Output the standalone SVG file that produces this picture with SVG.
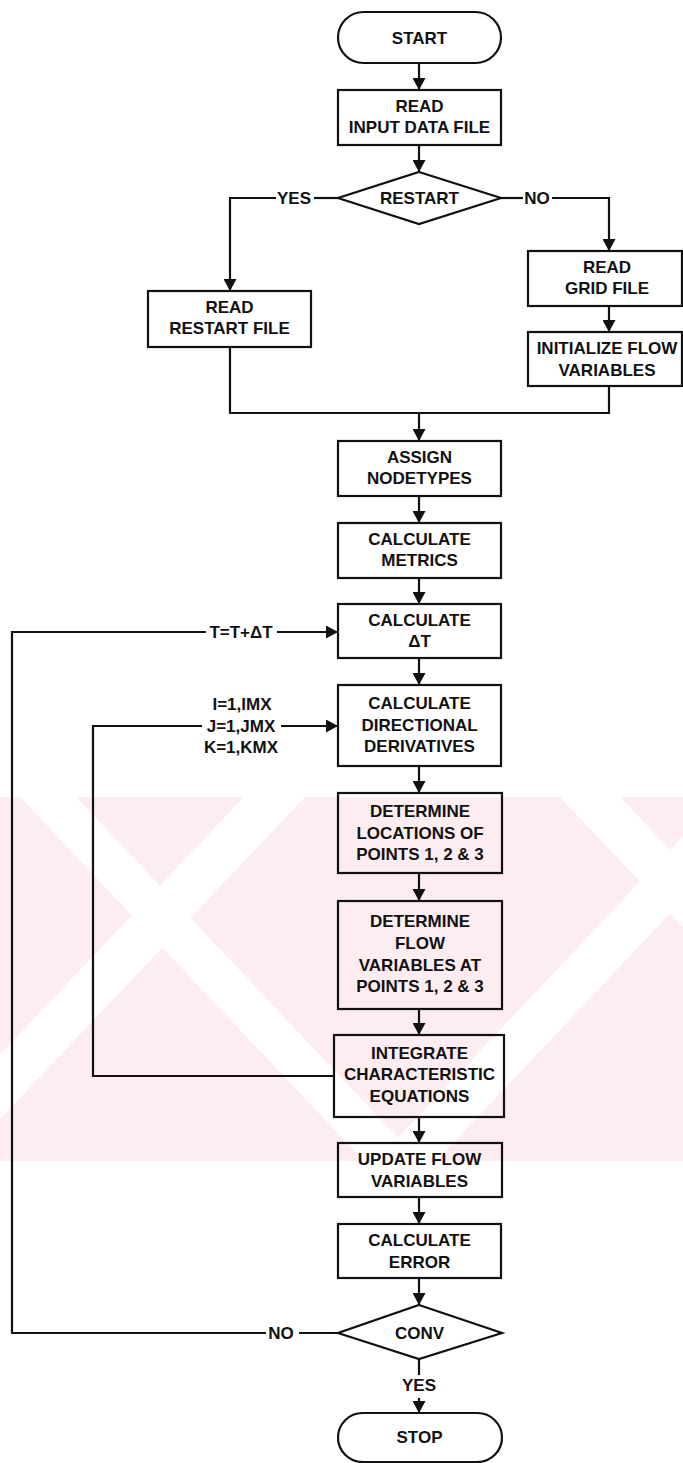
<svg xmlns="http://www.w3.org/2000/svg" width="683" height="1463" viewBox="0 0 683 1463">
<style>
.box{fill:none;stroke:#111;stroke-width:2.2}
.ln{fill:none;stroke:#111;stroke-width:2.2}
.t{font-family:"Liberation Sans",Arial,sans-serif;font-weight:bold;font-size:17px;fill:#111;text-anchor:middle}
</style>
<defs>
<marker id="ah" viewBox="0 0 12 13" refX="12" refY="6.5" markerWidth="12" markerHeight="13" markerUnits="userSpaceOnUse" orient="auto">
<path d="M0,0 L12,6.5 L0,13 z" fill="#111"/>
</marker>
<clipPath id="wm"><rect x="0" y="797" width="683" height="364"/></clipPath>
</defs>
<rect width="683" height="1463" fill="#fff"/>
<g id="watermark" clip-path="url(#wm)">
<rect x="0" y="797" width="683" height="364" fill="#fdedf0"/>
<g fill="#fff">
<polygon points="20,797 76,797 420,1161 364,1161"/>
<polygon points="244,797 305,797 -40,1161 -101,1161"/>
<polygon points="560,797 620,797 964,1161 904,1161"/>
<polygon points="720,797 780,797 436,1161 376,1161"/>
</g>
</g>
<g id="connectors">
<line class="ln" x1="419" y1="63" x2="419" y2="90" marker-end="url(#ah)"/>
<line class="ln" x1="419" y1="145" x2="419" y2="172" marker-end="url(#ah)"/>
<polyline class="ln" points="338,198 314,198"/>
<polyline class="ln" points="276,198 230,198 230,291" marker-end="url(#ah)"/>
<polyline class="ln" points="501,198 523,198"/>
<polyline class="ln" points="552,198 609,198 609,251" marker-end="url(#ah)"/>
<line class="ln" x1="609" y1="306" x2="609" y2="332" marker-end="url(#ah)"/>
<polyline class="ln" points="230,347 230,413 609,413 609,386"/>
<line class="ln" x1="419" y1="413" x2="419" y2="441" marker-end="url(#ah)"/>
<line class="ln" x1="419" y1="496" x2="419" y2="523" marker-end="url(#ah)"/>
<line class="ln" x1="419" y1="578" x2="419" y2="604" marker-end="url(#ah)"/>
<line class="ln" x1="419" y1="658" x2="419" y2="685" marker-end="url(#ah)"/>
<line class="ln" x1="419" y1="766" x2="419" y2="793" marker-end="url(#ah)"/>
<line class="ln" x1="419" y1="873" x2="419" y2="901" marker-end="url(#ah)"/>
<line class="ln" x1="419" y1="1009" x2="419" y2="1035" marker-end="url(#ah)"/>
<line class="ln" x1="419" y1="1117" x2="419" y2="1143" marker-end="url(#ah)"/>
<line class="ln" x1="419" y1="1197" x2="419" y2="1224" marker-end="url(#ah)"/>
<line class="ln" x1="419" y1="1278" x2="419" y2="1305" marker-end="url(#ah)"/>
<line class="ln" x1="419" y1="1359" x2="419" y2="1375"/>
<line class="ln" x1="419" y1="1398" x2="419" y2="1413" marker-end="url(#ah)"/>
<polyline class="ln" points="338,1333 299,1333"/>
<polyline class="ln" points="266,1333 12,1333 12,632 206,632"/>
<line class="ln" x1="277" y1="632" x2="338" y2="632" marker-end="url(#ah)"/>
<polyline class="ln" points="334,1076 93,1076 93,726 202,726"/>
<line class="ln" x1="281" y1="726" x2="338" y2="726" marker-end="url(#ah)"/>
<text class="t" x="294" y="204">YES</text>
<text class="t" x="537" y="204">NO</text>
<text class="t" x="241" y="638">T=T+ΔT</text>
<text class="t" x="242" y="710">I=1,IMX</text>
<text class="t" x="241" y="732">J=1,JMX</text>
<text class="t" x="241" y="753">K=1,KMX</text>
<text class="t" x="281" y="1339">NO</text>
<text class="t" x="419" y="1391">YES</text>
</g>
<g id="start"><rect class="box" x="338" y="12" width="163" height="51" rx="25.5"/><text class="t" x="419.5" y="43.5">START</text></g>
<g id="read-input"><rect class="box" x="338" y="90" width="163" height="55"/><text class="t" x="419.5" y="112">READ</text><text class="t" x="419.5" y="133">INPUT DATA FILE</text></g>
<g id="restart"><polygon class="box" points="419,172 501,198 419,224 338,198"/><text class="t" x="419.5" y="204">RESTART</text></g>
<g id="read-restart"><rect class="box" x="148" y="291" width="163" height="56"/><text class="t" x="229.5" y="313">READ</text><text class="t" x="229.5" y="334">RESTART FILE</text></g>
<g id="read-grid"><rect class="box" x="528" y="251" width="154" height="55"/><text class="t" x="607" y="273">READ</text><text class="t" x="607" y="294">GRID FILE</text></g>
<g id="init-flow"><rect class="box" x="528" y="332" width="154" height="54"/><text class="t" x="607" y="354">INITIALIZE FLOW</text><text class="t" x="607" y="376">VARIABLES</text></g>
<g id="assign"><rect class="box" x="338" y="441" width="163" height="55"/><text class="t" x="419.5" y="463">ASSIGN</text><text class="t" x="419.5" y="484">NODETYPES</text></g>
<g id="metrics"><rect class="box" x="338" y="523" width="163" height="55"/><text class="t" x="419.5" y="545">CALCULATE</text><text class="t" x="419.5" y="566">METRICS</text></g>
<g id="calc-dt"><rect class="box" x="338" y="604" width="163" height="54"/><text class="t" x="419.5" y="626">CALCULATE</text><text class="t" x="419.5" y="647">ΔT</text></g>
<g id="dir-deriv"><rect class="box" x="338" y="685" width="163" height="81"/><text class="t" x="419.5" y="709">CALCULATE</text><text class="t" x="419.5" y="731">DIRECTIONAL</text><text class="t" x="419.5" y="752">DERIVATIVES</text></g>
<g id="locations"><rect class="box" x="338" y="793" width="164" height="80"/><text class="t" x="420" y="817">DETERMINE</text><text class="t" x="420" y="839">LOCATIONS OF</text><text class="t" x="420" y="860">POINTS 1, 2 &amp; 3</text></g>
<g id="flow-vars"><rect class="box" x="338" y="901" width="164" height="108"/><text class="t" x="420" y="927">DETERMINE</text><text class="t" x="420" y="949">FLOW</text><text class="t" x="420" y="971">VARIABLES AT</text><text class="t" x="420" y="992">POINTS 1, 2 &amp; 3</text></g>
<g id="integrate"><rect class="box" x="334" y="1035" width="170" height="82"/><text class="t" x="419.5" y="1059">INTEGRATE</text><text class="t" x="419.5" y="1080">CHARACTERISTIC</text><text class="t" x="419.5" y="1102">EQUATIONS</text></g>
<g id="update"><rect class="box" x="338" y="1143" width="164" height="54"/><text class="t" x="419.5" y="1165">UPDATE FLOW</text><text class="t" x="419.5" y="1187">VARIABLES</text></g>
<g id="calc-error"><rect class="box" x="338" y="1224" width="163" height="54"/><text class="t" x="419.5" y="1246">CALCULATE</text><text class="t" x="419.5" y="1268">ERROR</text></g>
<g id="conv"><polygon class="box" points="419,1305 502,1333 419,1359 338,1333"/><text class="t" x="419.5" y="1339">CONV</text></g>
<g id="stop"><rect class="box" x="338" y="1413" width="164" height="49" rx="24.5"/><text class="t" x="419.5" y="1443">STOP</text></g>
</svg>
